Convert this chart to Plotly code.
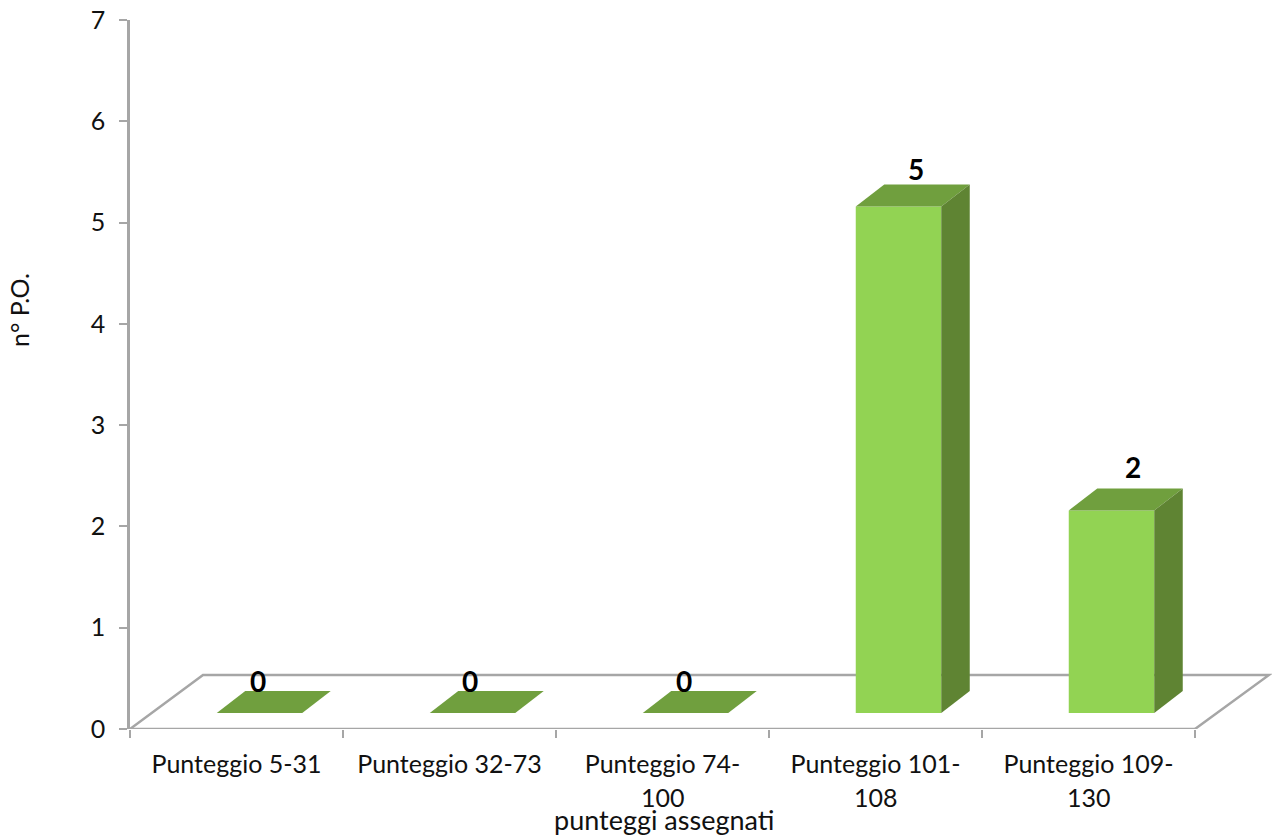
import plotly.graph_objects as go

# Score bands on the x axis and number of P.O. in each band
category_first_lines = ["Punteggio 5-31", "Punteggio 32-73", "Punteggio 74-", "Punteggio 101-", "Punteggio 109-"]
category_second_lines = ["", "", "100", "108", "130"]
values = [0, 0, 0, 5, 2]
y_ticks = [0, 1, 2, 3, 4, 5, 6, 7]

# Pixel offsets of the value labels from each category position
label_xshift = [21, 20, 21, 40, 44]
label_yshift = [48, 48, 48, 54, 59]

# Canvas and pixel scale of the plot area
WIDTH, HEIGHT = 1276, 835
LEFT, RIGHT_EDGE = 130, 1272
TOP, ZERO_Y = 20, 729
PX_PER_CAT = 213.0
PX_PER_UNIT = (ZERO_Y - TOP) / 7

def dx(px):
    return px / PX_PER_CAT

def dy(px):
    return px / PX_PER_UNIT

# Pseudo-3D depth of the floor and the columns
FLOOR_DX, FLOOR_DY = 73, 54
DEPTH_DX, DEPTH_DY = 28.5, 22
BAR_W = 85.5
BAR_SHIFT = 23
BAR_BASE = 16

x_min = -0.5
x_max = x_min + (RIGHT_EDGE - LEFT) / PX_PER_CAT
n = len(values)

FRONT, TOP_FACE, SIDE = "#92d353", "#709f3e", "#5f8433"
GREY = "#a6a6a6"
FONT = "Lato, Carlito, sans-serif"
TEXT = "#111111"

fig = go.Figure()

centers = [i + dx(BAR_SHIFT) for i in range(n)]
fig.add_trace(go.Bar(
    x=centers, y=values, base=dy(BAR_BASE), width=dx(BAR_W),
    marker=dict(color=FRONT, line=dict(width=0)), showlegend=False, hoverinfo="skip",
))

# Top and side faces of each column, offset from the column's value
for c, v in zip(centers, values):
    x0, x1 = c - dx(BAR_W) / 2, c + dx(BAR_W) / 2
    y0, y1 = dy(BAR_BASE), dy(BAR_BASE) + v
    fig.add_trace(go.Scatter(
        x=[x0, x1, x1 + dx(DEPTH_DX), x0 + dx(DEPTH_DX), x0],
        y=[y1, y1, y1 + dy(DEPTH_DY), y1 + dy(DEPTH_DY), y1],
        fill="toself", fillcolor=TOP_FACE, mode="none", showlegend=False, hoverinfo="skip",
    ))
    if v > 0:
        fig.add_trace(go.Scatter(
            x=[x1, x1 + dx(DEPTH_DX), x1 + dx(DEPTH_DX), x1, x1],
            y=[y0, y0 + dy(DEPTH_DY), y1 + dy(DEPTH_DY), y1, y0],
            fill="toself", fillcolor=SIDE, mode="none", showlegend=False, hoverinfo="skip",
        ))

# Secondary x axis carrying the ticks at the category boundaries, and the front
# edge of the floor, left unclipped so its full width shows along the axis
x_end = x_min + n
fig.add_trace(go.Scatter(
    x=[x_min, x_end], y=[0, 0], xaxis="x2", mode="lines", cliponaxis=False,
    line=dict(color=GREY, width=2.5), showlegend=False, hoverinfo="skip",
))

# Back and side edges of the floor, drawn under the columns
floor_path = (
    f"M {x_min} 0 L {x_min + dx(FLOOR_DX)} {dy(FLOOR_DY)} "
    f"L {x_end + dx(FLOOR_DX + 1)} {dy(FLOOR_DY)} L {x_end} 0"
)
fig.add_shape(type="path", path=floor_path, xref="x", yref="y", layer="below",
              line=dict(color=GREY, width=2.5))

annotations = []
# Value labels sitting above each column
for i, v in enumerate(values):
    annotations.append(dict(
        x=i, y=v, xref="x", yref="y", text=f"<b>{v}</b>", showarrow=False,
        xshift=label_xshift[i], yshift=label_yshift[i],
        font=dict(family=FONT, size=28, color="#000000"),
    ))
# Second line of the wrapped category labels
for i, line in enumerate(category_second_lines):
    if line:
        annotations.append(dict(
            x=i, y=0, xref="x", yref="y", text=line, showarrow=False, yshift=-68,
            font=dict(family=FONT, size=25, color=TEXT),
        ))

plot_w = RIGHT_EDGE - LEFT
plot_h = ZERO_Y - TOP
# Axis titles placed by hand, away from the centre of the plot area
annotations.append(dict(
    x=(664 - LEFT) / plot_w, y=(ZERO_Y - 819) / plot_h, xref="paper", yref="paper",
    xanchor="center", yanchor="middle", text="punteggi assegnati", showarrow=False,
    font=dict(family=FONT, size=27, color=TEXT),
))
annotations.append(dict(
    x=(19 - LEFT) / plot_w, y=(ZERO_Y - 310) / plot_h, xref="paper", yref="paper",
    xanchor="center", yanchor="middle", text="n° P.O.", textangle=-90, showarrow=False,
    font=dict(family=FONT, size=25, color=TEXT),
))

fig.update_layout(
    width=WIDTH, height=HEIGHT,
    margin=dict(l=LEFT, r=WIDTH - RIGHT_EDGE, t=TOP, b=HEIGHT - ZERO_Y, pad=0),
    paper_bgcolor="white", plot_bgcolor="white",
    showlegend=False, annotations=annotations,
    xaxis=dict(
        range=[x_min, x_max], tickmode="array", tickvals=list(range(n)),
        ticktext=category_first_lines, ticks="", showgrid=False, zeroline=False,
        showline=False, tickfont=dict(family=FONT, size=25, color=TEXT),
        ticklabelstandoff=18, tickangle=0,
    ),
    xaxis2=dict(
        overlaying="x", side="bottom", anchor="y", range=[x_min, x_max],
        tickmode="array", tickvals=[x_min + k for k in range(n + 1)], ticktext=[""] * (n + 1),
        ticks="outside", ticklen=8, tickwidth=2, tickcolor=GREY, showgrid=False,
        zeroline=False, showline=False,
    ),
    yaxis=dict(
        range=[0, 7], tickmode="array", tickvals=y_ticks, ticks="outside", ticklen=8,
        tickwidth=2, tickcolor=GREY, showgrid=False, zeroline=False, showline=True,
        linecolor=GREY, linewidth=2.5, tickfont=dict(family=FONT, size=25, color=TEXT),
        ticklabelstandoff=9,
    ),
)

fig.write_html("out.html")
